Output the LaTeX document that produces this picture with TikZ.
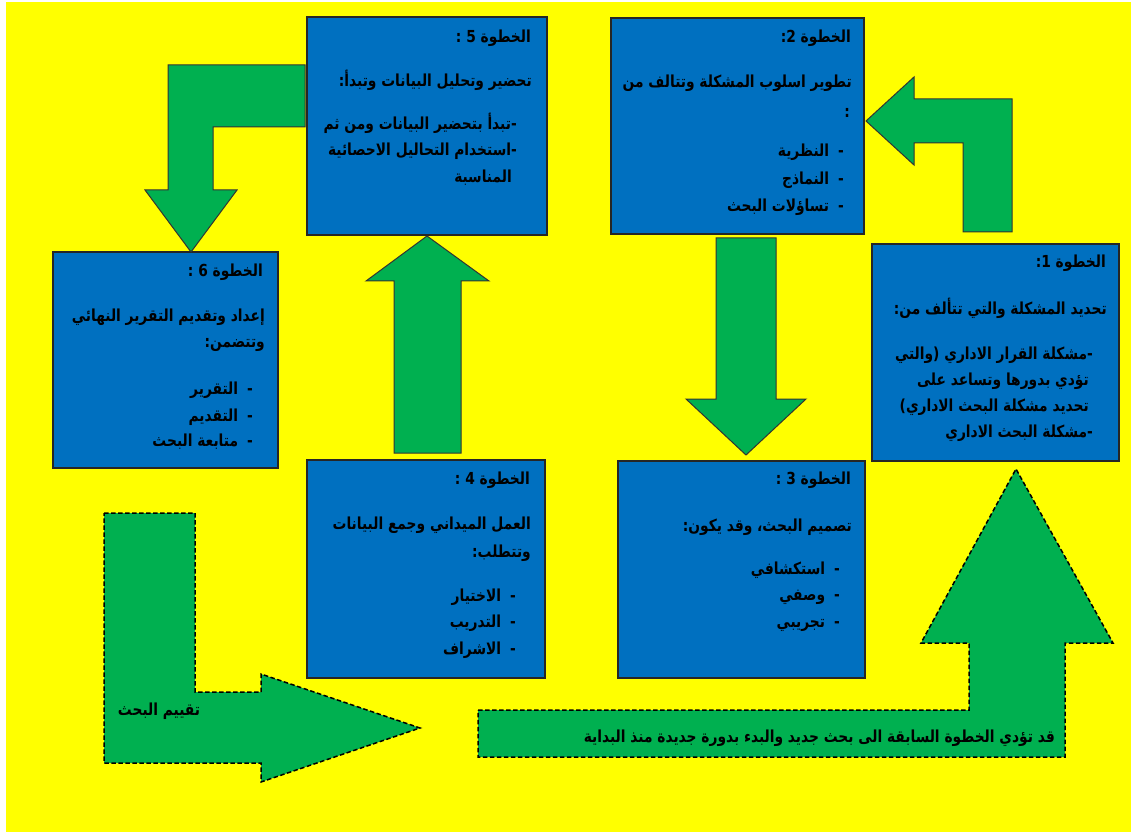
\documentclass[tikz,border=0pt]{standalone}
\usepackage{fontspec}
\usepackage{graphicx}
\newfontfamily\arabicfont[Script=Arabic]{DejaVu Sans}
\TeXXeTstate=1
% right-to-left line, set a little taller than the font's own proportions
\newcommand\artext[1]{\scalebox{1}[1.2]{\beginR #1\endR}}
\definecolor{pagebg}{HTML}{FFFF00}
\definecolor{boxblue}{HTML}{0070C0}
\definecolor{arrowgreen}{HTML}{00B050}
\tikzset{
  stepbox/.style={draw=black!85, line width=1.1pt, fill=boxblue, inner sep=0pt},
  blockarrow/.style={draw=black!80, line width=1pt, fill=arrowgreen, line join=miter},
  dasharrow/.style={draw=black, line width=1.5pt, fill=arrowgreen, dash pattern=on 4.5pt off 2.5pt},
  txt/.style={anchor=east, inner sep=0pt, font=\arabicfont\bfseries\fontsize{13.8}{16}\selectfont},
  lbl/.style={inner sep=0pt, font=\arabicfont\bfseries\fontsize{13.8}{16}\selectfont}
}
\begin{document}
\begin{tikzpicture}[x=1pt,y=-1pt]
\useasboundingbox (0,0) rectangle (1135,834);
\fill[white] (0,0) rectangle (1135,834);
\fill[pagebg] (6,2) rectangle (1131,832);

% step boxes
\node[stepbox, minimum width=240pt, minimum height=218pt] (b5) at (427,126) {};
\node[stepbox, minimum width=253pt, minimum height=216pt] (b2) at (737.5,126) {};
\node[stepbox, minimum width=247pt, minimum height=217pt] (b1) at (995.5,352.5) {};
\node[stepbox, minimum width=225pt, minimum height=216pt] (b6) at (165.5,360) {};
\node[stepbox, minimum width=238pt, minimum height=218pt] (b4) at (426,569) {};
\node[stepbox, minimum width=247pt, minimum height=217pt] (b3) at (741.5,569.5) {};

% block arrows between the steps
\draw[blockarrow] (305,65) -- (168,65) -- (168,190) -- (145,190) -- (191,252)
  -- (237,190) -- (213,190) -- (213,127) -- (305,127) -- cycle;
\draw[blockarrow] (866,121) -- (914,77) -- (914,99) -- (1012,99) -- (1012,232)
  -- (963,232) -- (963,143) -- (914,143) -- (914,165) -- cycle;
\draw[blockarrow] (427,236) -- (489,281) -- (461,281) -- (461,453) -- (394,453)
  -- (394,281) -- (366,281) -- cycle;
\draw[blockarrow] (746,455) -- (686,399) -- (716,399) -- (716,238) -- (776,238)
  -- (776,399) -- (806,399) -- cycle;

% dashed arrows
\draw[dasharrow] (104,513) -- (195,513) -- (195,692) -- (261,692) -- (261,674)
  -- (420,728) -- (261,782) -- (261,763) -- (104,763) -- cycle;
\draw[dasharrow] (478,710) -- (969,710) -- (969,643) -- (921,643) -- (1016,469)
  -- (1113,643) -- (1065,643) -- (1065,757) -- (478,757) -- cycle;

% step 5
\node[txt] (t5a) at (531,38) {\artext{الخطوة 5 :}};
\node[txt] (t5b) at (532,80) {\artext{تحضير وتحليل البيانات وتبدأ:}};
\node[txt] (t5c) at (517,123) {\artext{-تبدأ بتحضير البيانات ومن ثم}};
\node[txt] (t5d) at (517,151) {\artext{-استخدام التحاليل الاحصائية}};
\node[txt] (t5e) at (512,178) {\artext{المناسبة}};

% step 2
\node[txt] (t2a) at (851,38) {\artext{الخطوة 2:}};
\node[txt] (t2b) at (852,83) {\artext{تطوير اسلوب المشكلة وتتالف من}};
\node[txt] (t2c) at (850,113) {\artext{:}};
\node[txt] (t2d) at (844,152) {\artext{-\hspace{9pt}النظرية}};
\node[txt] (t2e) at (844,180) {\artext{-\hspace{9pt}النماذج}};
\node[txt] (t2f) at (844,207) {\artext{-\hspace{9pt}تساؤلات البحث}};

% step 1
\node[txt] (t1a) at (1106,263) {\artext{الخطوة 1:}};
\node[txt] (t1b) at (1107,308) {\artext{تحديد المشكلة والتي تتألف من:}};
\node[txt] (t1c) at (1093,355) {\artext{-مشكلة القرار الاداري (والتي}};
\node[txt] (t1d) at (1089,381) {\artext{تؤدي بدورها وتساعد على}};
\node[txt] (t1e) at (1089,407) {\artext{تحديد مشكلة البحث الاداري)}};
\node[txt] (t1f) at (1093,433) {\artext{-مشكلة البحث الاداري}};

% step 6
\node[txt] (t6a) at (263,272) {\artext{الخطوة 6 :}};
\node[txt] (t6b) at (265,317) {\artext{إعداد وتقديم التقرير النهائي}};
\node[txt] (t6c) at (265,345) {\artext{وتتضمن:}};
\node[txt] (t6d) at (253,390) {\artext{-\hspace{9pt}التقرير}};
\node[txt] (t6e) at (253,417) {\artext{-\hspace{9pt}التقديم}};
\node[txt] (t6f) at (253,442) {\artext{-\hspace{9pt}متابعة البحث}};

% step 4
\node[txt] (t4a) at (530,480) {\artext{الخطوة 4 :}};
\node[txt] (t4b) at (531,525) {\artext{العمل الميداني وجمع البيانات}};
\node[txt] (t4c) at (531,553) {\artext{وتتطلب:}};
\node[txt] (t4d) at (516,597) {\artext{-\hspace{9pt}الاختيار}};
\node[txt] (t4e) at (516,623) {\artext{-\hspace{9pt}التدريب}};
\node[txt] (t4f) at (516,650) {\artext{-\hspace{9pt}الاشراف}};

% step 3
\node[txt] (t3a) at (851,480) {\artext{الخطوة 3 :}};
\node[txt] (t3b) at (852,527) {\artext{تصميم البحث، وقد يكون:}};
\node[txt] (t3c) at (840,570) {\artext{-\hspace{9pt}استكشافي}};
\node[txt] (t3d) at (840,597) {\artext{-\hspace{9pt}وصفي}};
\node[txt] (t3e) at (840,625) {\artext{-\hspace{9pt}تجريبي}};

% labels on the dashed arrows
\node[lbl] (evl) at (159,711) {\artext{تقييم البحث}};
\node[lbl, anchor=east] (cyc) at (1055,738) {\artext{قد تؤدي الخطوة السابقة الى بحث جديد والبدء بدورة جديدة منذ البداية}};
\end{tikzpicture}
\end{document}
